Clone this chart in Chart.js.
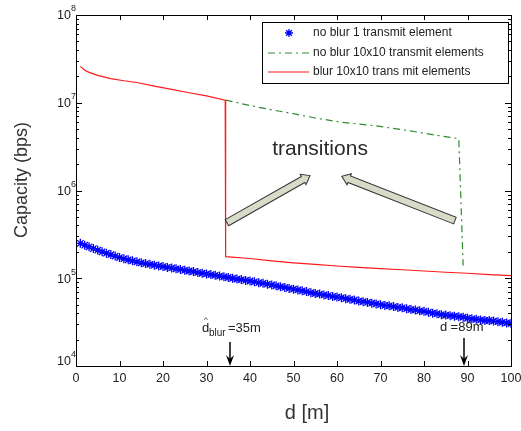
<!DOCTYPE html>
<html>
<head>
<meta charset="utf-8">
<script src="https://cdn.jsdelivr.net/npm/chart.js@4.4.1/dist/chart.umd.min.js"></script>
<style>
  html, body { margin: 0; padding: 0; background: #fff; }
  canvas { display: block; }
</style>
</head>
<body>
<canvas id="capChart" width="521" height="431"></canvas>
<script>
// distance [m] for the single element curve (one marker per metre)
const blueDist = Array.from({ length: 100 }, (_, i) => i + 1);
const blueCap = [
  250000, 238000, 228000, 218000, 209000, 200000, 193000, 186000, 179000, 172000,
  167000, 162000, 158000, 154000, 150000, 147000, 144000, 141000, 138000, 136000,
  133000, 131000, 128000, 126000, 123000, 121000, 119000, 116000, 114000, 112000,
  110000, 108000, 106000, 104000, 102000, 100000, 98000, 96500, 94500, 93000,
  91000, 89000, 87500, 85500, 84000, 82000, 80000, 78500, 76500, 75000,
  73500, 72000, 70500, 68500, 67000, 66000, 64500, 63500, 62000, 61000,
  60000, 58500, 57500, 56500, 55000, 54000, 53000, 52000, 51000, 50000,
  49000, 48500, 47500, 46500, 46000, 45000, 44000, 43500, 42500, 42000,
  41000, 40000, 39500, 38500, 38000, 37500, 37000, 36500, 36000, 35000,
  34500, 34000, 33500, 33000, 33000, 32500, 32000, 31500, 31000, 30500
];

const greenDist = [34.4, 40, 45, 50, 55, 61, 69, 76, 83, 88, 89];
const greenCap = [1.07e7, 9.3e6, 8.3e6, 7.5e6, 6.7e6, 6.0e6, 5.45e6, 4.85e6, 4.25e6, 3.9e6, 1.4e5];

const redDist = [1, 2, 3, 5, 8, 11, 14, 18, 22, 26, 30, 34.3, 34.4, 40, 45, 50, 55, 60, 65, 70, 75, 80, 85, 90, 95, 100];
const redCap = [2.6e7, 2.35e7, 2.22e7, 2.05e7, 1.88e7, 1.78e7, 1.7e7, 1.55e7, 1.42e7, 1.3e7, 1.2e7, 1.07e7,
  1.76e5, 1.68e5, 1.58e5, 1.5e5, 1.44e5, 1.38e5, 1.33e5, 1.29e5, 1.25e5, 1.21e5, 1.17e5, 1.14e5, 1.1e5, 1.07e5];

const seriesNames = ["no blur 1 transmit element", "no blur 10x10 transmit elements", "blur 10x10 trans mit elements"];
const xTicks = [0, 10, 20, 30, 40, 50, 60, 70, 80, 90, 100];
const yExponents = [4, 5, 6, 7, 8];

const FONT = "Arial, 'Liberation Sans', sans-serif";

function toPoints(xs, ys) {
  return xs.map((x, i) => ({ x: x, y: ys[i] }));
}

function drawBlockArrow(ctx, x1, y1, x2, y2) {
  // shaft + small head, like the office-style block arrow
  const ang = Math.atan2(y2 - y1, x2 - x1);
  const len = Math.hypot(x2 - x1, y2 - y1);
  const sw = 3.5, hw = 6, hl = 8;
  ctx.save();
  ctx.translate(x1, y1);
  ctx.rotate(ang);
  ctx.beginPath();
  ctx.moveTo(0, -sw);
  ctx.lineTo(len - hl, -sw);
  ctx.lineTo(len - hl, -hw);
  ctx.lineTo(len, 0);
  ctx.lineTo(len - hl, hw);
  ctx.lineTo(len - hl, sw);
  ctx.lineTo(0, sw);
  ctx.closePath();
  ctx.fillStyle = "#d9dbc9";
  ctx.fill();
  ctx.strokeStyle = "#333";
  ctx.lineWidth = 1;
  ctx.stroke();
  ctx.restore();
}

function drawDownArrow(ctx, x, yTop, yTip) {
  ctx.save();
  ctx.strokeStyle = "#000";
  ctx.fillStyle = "#000";
  ctx.lineWidth = 1.5;
  ctx.beginPath();
  ctx.moveTo(x, yTop);
  ctx.lineTo(x, yTip - 6);
  ctx.stroke();
  ctx.beginPath();
  ctx.moveTo(x - 4, yTip - 11);
  ctx.lineTo(x, yTip);
  ctx.lineTo(x + 4, yTip - 11);
  ctx.lineTo(x, yTip - 7);
  ctx.closePath();
  ctx.fill();
  ctx.restore();
}

const decorPlugin = {
  id: "decor",
  afterDraw(chart) {
    const ctx = chart.ctx;
    const a = chart.chartArea;
    const xs = chart.scales.x, ys = chart.scales.y;

    ctx.save();
    // box
    ctx.strokeStyle = "#000";
    ctx.lineWidth = 1;
    ctx.strokeRect(a.left + 0.5, a.top + 0.5, a.right - a.left, a.bottom - a.top);

    // x ticks, inside, bottom and top
    ctx.beginPath();
    xTicks.forEach(v => {
      const px = Math.round(xs.getPixelForValue(v)) + 0.5;
      ctx.moveTo(px, a.bottom); ctx.lineTo(px, a.bottom - 5);
      ctx.moveTo(px, a.top); ctx.lineTo(px, a.top + 5);
    });
    // y ticks, major and minor, left and right
    yExponents.forEach((e, k) => {
      for (let m = 1; m <= 9; m++) {
        if (k === yExponents.length - 1 && m > 1) break;
        const py = Math.round(ys.getPixelForValue(m * Math.pow(10, e))) + 0.5;
        const L = m === 1 ? 6 : 3;
        ctx.moveTo(a.left, py); ctx.lineTo(a.left + L, py);
        ctx.moveTo(a.right, py); ctx.lineTo(a.right - L, py);
      }
    });
    ctx.stroke();

    // x tick labels
    ctx.fillStyle = "#222";
    ctx.font = "12.5px " + FONT;
    ctx.textAlign = "center";
    ctx.textBaseline = "middle";
    xTicks.forEach(v => ctx.fillText(String(v), xs.getPixelForValue(v), a.bottom + 13));

    // y tick labels 10^n
    yExponents.forEach((e, k) => {
      let py = ys.getPixelForValue(Math.pow(10, e));
      if (k === 0) py -= 5;
      ctx.font = "12.5px " + FONT;
      ctx.textAlign = "right";
      ctx.textBaseline = "middle";
      ctx.fillText("10", a.left - 5, py + 1);
      ctx.font = "9px " + FONT;
      ctx.textAlign = "left";
      ctx.fillText(String(e), a.left - 5, py - 6);
    });

    // axis titles
    ctx.fillStyle = "#333";
    ctx.font = "20px " + FONT;
    ctx.textAlign = "center";
    ctx.textBaseline = "middle";
    ctx.fillText("d [m]", 307, 413);
    ctx.save();
    ctx.translate(22, 180);
    ctx.rotate(-Math.PI / 2);
    ctx.font = "18px " + FONT;
    ctx.fillText("Capacity (bps)", 0, 0);
    ctx.restore();

    // transition annotation
    ctx.font = "21px " + FONT;
    ctx.fillStyle = "#2a2a2a";
    ctx.fillText("transitions", xs.getPixelForValue(56.1), ys.getPixelForValue(2.94e6));
    drawBlockArrow(ctx, xs.getPixelForValue(34.7), ys.getPixelForValue(4.3e5),
      xs.getPixelForValue(53.8), ys.getPixelForValue(1.48e6));
    drawBlockArrow(ctx, xs.getPixelForValue(87.1), ys.getPixelForValue(4.54e5),
      xs.getPixelForValue(61.1), ys.getPixelForValue(1.45e6));

    // d_blur and d markers
    ctx.fillStyle = "#222";
    ctx.textAlign = "left";
    ctx.textBaseline = "alphabetic";
    let tx = 202, by = 332;
    ctx.font = "13px " + FONT;
    ctx.fillText("d", tx, by);
    ctx.font = "8px " + FONT;
    ctx.fillText("^", tx + 2, by - 10);
    ctx.font = "10px " + FONT;
    ctx.fillText("blur", tx + 7, by + 4);
    ctx.font = "13px " + FONT;
    ctx.fillText("=35m", tx + 26, by);
    tx = 440; by = 331;
    ctx.fillText("d", tx, by);
    ctx.fillText(" =89m", tx + 7, by);
    ctx.font = "8px " + FONT;
    ctx.fillText("^", tx + 2, by - 10);
    drawDownArrow(ctx, Math.round(xs.getPixelForValue(35.5)), 342, a.bottom);
    drawDownArrow(ctx, Math.round(xs.getPixelForValue(89.2)), 338, a.bottom);

    // legend box
    const lx = 262, ly = 22, lw = 246, lh = 61;
    ctx.fillStyle = "#fff";
    ctx.fillRect(lx, ly, lw, lh);
    ctx.strokeStyle = "#000";
    ctx.lineWidth = 1;
    ctx.strokeRect(lx + 0.5, ly + 0.5, lw, lh);
    const rows = [33, 53, 72];
    ctx.font = "12px " + FONT;
    ctx.fillStyle = "#222";
    ctx.textBaseline = "middle";
    seriesNames.forEach((name, i) => ctx.fillText(name, 313, rows[i]));
    // blue star sample
    ctx.strokeStyle = "#0000ff";
    ctx.lineWidth = 1.3;
    ctx.beginPath();
    const sx = 289, sy = rows[0], r = 4;
    for (let k = 0; k < 4; k++) {
      const t = k * Math.PI / 4;
      ctx.moveTo(sx - r * Math.cos(t), sy - r * Math.sin(t));
      ctx.lineTo(sx + r * Math.cos(t), sy + r * Math.sin(t));
    }
    ctx.stroke();
    // green dash-dot sample
    ctx.lineWidth = 1.2;
    ctx.strokeStyle = "#2e8b2e";
    ctx.setLineDash([7, 4, 2, 4]);
    ctx.beginPath(); ctx.moveTo(268, rows[1]); ctx.lineTo(309, rows[1]); ctx.stroke();
    ctx.setLineDash([]);
    ctx.strokeStyle = "#ff1a1a";
    ctx.beginPath(); ctx.moveTo(268, rows[2]); ctx.lineTo(309, rows[2]); ctx.stroke();

    ctx.restore();
  }
};

new Chart(document.getElementById("capChart"), {
  type: "line",
  data: {
    datasets: [
      {
        label: seriesNames[2],
        data: toPoints(redDist, redCap),
        borderColor: "#ff1a1a",
        borderWidth: 1.2,
        pointRadius: 0,
        tension: 0
      },
      {
        label: seriesNames[1],
        data: toPoints(greenDist, greenCap),
        borderColor: "#2e8b2e",
        borderWidth: 1.2,
        borderDash: [7, 4, 2, 4],
        pointRadius: 0,
        tension: 0
      },
      {
        label: seriesNames[0],
        data: toPoints(blueDist, blueCap),
        showLine: false,
        pointStyle: "star",
        pointRadius: 4.5,
        pointBorderColor: "#0000ff",
        pointBackgroundColor: "#0000ff",
        pointBorderWidth: 1.3
      }
    ]
  },
  options: {
    responsive: false,
    animation: false,
    devicePixelRatio: 1,
    layout: { padding: { left: 76, right: 10, top: 15, bottom: 65 } },
    scales: {
      x: { type: "linear", min: 0, max: 100, display: false },
      y: { type: "logarithmic", min: 1e4, max: 1e8, display: false }
    },
    plugins: {
      legend: { display: false },
      tooltip: { enabled: false }
    }
  },
  plugins: [decorPlugin]
});
</script>
</body>
</html>
